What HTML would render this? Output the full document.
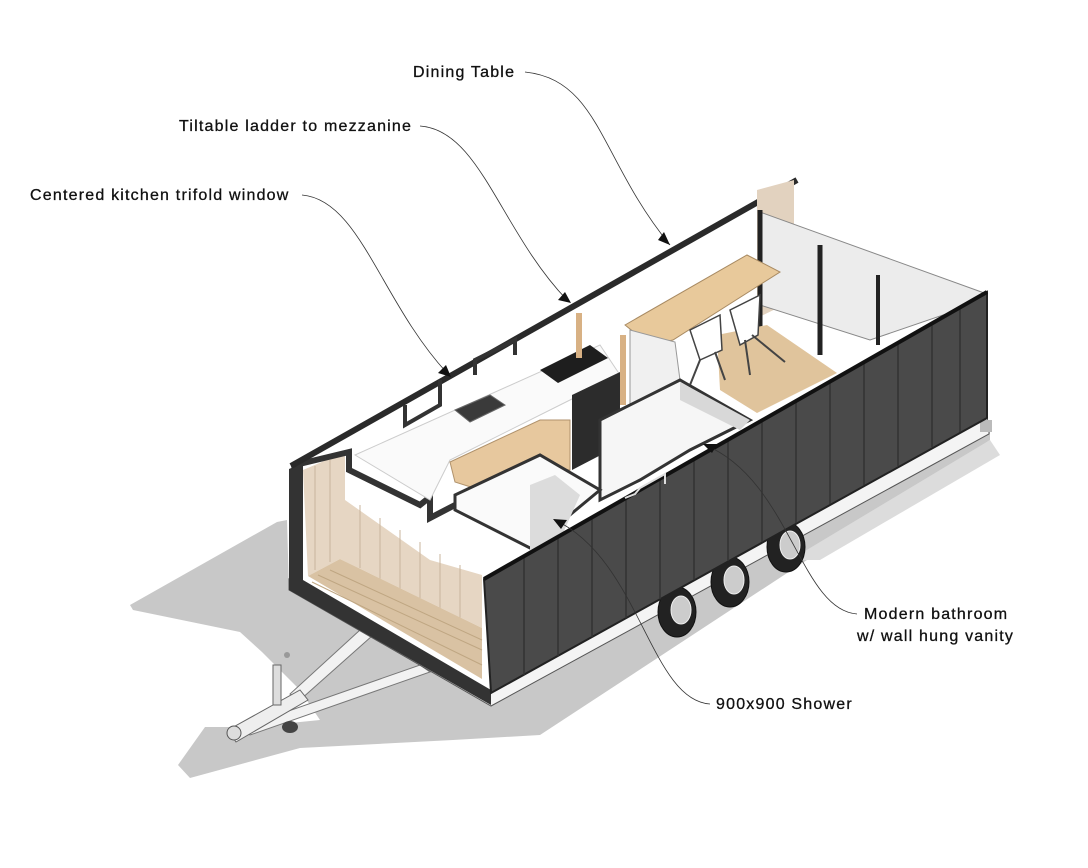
<!DOCTYPE html>
<html><head><meta charset="utf-8"><style>
html,body{margin:0;padding:0;background:#fff;}
svg{display:block;}
text{font-family:"Liberation Sans",sans-serif;font-size:16px;letter-spacing:1.2px;fill:#111;stroke:#111;stroke-width:0.3px;}
</style></head><body>
<svg width="1088" height="868" viewBox="0 0 1088 868" xmlns="http://www.w3.org/2000/svg">
<!-- shadow -->
<polygon points="287,520 277,522 130,605 133,610 240,632 262,652 300,690 320,720 250,727 205,727 178,765 190,778 300,748 453,740 540,735 990,440 990,430 491,706 289,590" fill="#c8c8c8"/>
<polygon points="790,560 990,440 1000,455 820,560" fill="#dcdcdc"/>
<!-- tow bar -->
<polygon points="360,630 372,636 300,700 290,694" fill="#f2f2f2" stroke="#777" stroke-width="1"/>
<polygon points="420,665 430,672 250,735 240,728" fill="#f2f2f2" stroke="#777" stroke-width="1"/>
<polygon points="228,730 300,690 308,700 236,742" fill="#eee" stroke="#666"/>
<rect x="273" y="665" width="8" height="40" fill="#ddd" stroke="#666"/>
<circle cx="287" cy="655" r="3" fill="#999"/>
<ellipse cx="234" cy="733" rx="7" ry="7" fill="#ddd" stroke="#555"/>
<ellipse cx="290" cy="727" rx="8" ry="6" fill="#444"/>
<!-- base strip -->
<polygon points="289,579 491,693 987,418 989,426 989,434 491,706 289,590" fill="#f4f4f4" stroke="#555" stroke-width="1"/>
<polygon points="980,420 992,420 992,432 980,432" fill="#bbb"/>
<!-- tires -->
<g fill="#222" stroke="#111">
<ellipse cx="677" cy="612" rx="19" ry="25"/>
<ellipse cx="730" cy="582" rx="19" ry="25"/>
<ellipse cx="786" cy="547" rx="19" ry="25"/>
</g>
<g fill="#ccc" stroke="#eee">
<ellipse cx="681" cy="610" rx="10" ry="14"/>
<ellipse cx="734" cy="580" rx="10" ry="14"/>
<ellipse cx="790" cy="545" rx="10" ry="14"/>
</g>
<!-- front outer wall -->
<polygon points="289,469 303,463 303,580 491,690 491,705 289,590" fill="#333"/>
<!-- front wood inner wall -->
<polygon points="303,470 345,452 345,500 430,560 482,575 482,628 340,559 308,576" fill="#e6d6c3"/>
<g stroke="#c8b49c" stroke-width="1">
<line x1="315" y1="466" x2="315" y2="570"/><line x1="330" y1="460" x2="330" y2="562"/>
<line x1="360" y1="505" x2="360" y2="568"/><line x1="380" y1="518" x2="380" y2="580"/>
<line x1="400" y1="530" x2="400" y2="592"/><line x1="420" y1="542" x2="420" y2="604"/>
<line x1="440" y1="554" x2="440" y2="616"/><line x1="460" y1="565" x2="460" y2="620"/>
</g>
<!-- front wood floor -->
<polygon points="308,576 340,559 482,628 482,679" fill="#d9c2a3"/>
<g stroke="#bfa682" stroke-width="1"><line x1="318" y1="575" x2="482" y2="650"/><line x1="330" y1="570" x2="482" y2="640"/><line x1="312" y1="582" x2="482" y2="665"/></g>
<!-- front wall top edge & window cut -->
<polyline points="291,466 349,452 349,470 420,505 430,497 430,518 455,505" fill="none" stroke="#333" stroke-width="6"/>
<!-- back wall line -->
<line x1="291" y1="466" x2="797" y2="180" stroke="#2a2a2a" stroke-width="6"/>
<!-- back window frames -->
<g fill="none" stroke="#333" stroke-width="4">
<polyline points="405,405 405,425 440,405 440,380"/>
<polyline points="475,375 475,360 515,340 515,355"/>
</g>
<!-- interior light areas -->
<polygon points="355,455 600,345 620,375 560,405 450,460 430,500" fill="#fafafa" stroke="#ccc" stroke-width="1"/>
<!-- counter wood cabinets -->
<polygon points="450,462 540,420 570,420 570,470 540,465 480,490 455,482" fill="#e7c89e" stroke="#b0926c" stroke-width="1"/>
<polygon points="572,395 620,372 620,445 572,470" fill="#2c2c2c"/>
<polygon points="540,370 590,345 608,358 558,383" fill="#1e1e1e"/>
<polygon points="455,410 490,395 505,405 470,422" fill="#3a3a3a" stroke="#666"/>
<!-- ladder post -->
<rect x="576" y="313" width="6" height="45" fill="#d8b184"/>
<rect x="620" y="335" width="6" height="70" fill="#d8b184"/>
<!-- back end walls -->
<polygon points="757,190 794,180 794,300 757,318" fill="#e2d2bf"/>
<polygon points="760,212 987,294 987,300 870,340 760,305" fill="#ececec" stroke="#888" stroke-width="1"/>
<line x1="760" y1="210" x2="760" y2="340" stroke="#222" stroke-width="5"/>
<line x1="820" y1="245" x2="820" y2="355" stroke="#222" stroke-width="5"/>
<line x1="878" y1="275" x2="878" y2="345" stroke="#222" stroke-width="4"/>
<!-- back wood floor -->
<polygon points="717,335 767,325 837,373 757,413 720,390" fill="#e0c49c"/>
<!-- dining table -->
<polygon points="625,325 747,255 780,272 673,340 650,345" fill="#e8c99b" stroke="#a88a62" stroke-width="1"/>
<polygon points="630,330 675,342 680,380 630,410" fill="#f0f0f0" stroke="#999"/>
<g fill="#fff" stroke="#444" stroke-width="1.5">
<path d="M690,330 L720,315 L722,350 L700,360 Z"/>
<path d="M730,310 L760,295 L758,335 L740,345 Z"/>
</g>
<g stroke="#444" stroke-width="2"><line x1="700" y1="360" x2="690" y2="385"/><line x1="715" y1="352" x2="725" y2="380"/><line x1="745" y1="340" x2="750" y2="375"/><line x1="752" y1="335" x2="785" y2="362"/></g>
<!-- bathroom partitions -->
<polygon points="600,420 680,380 750,420 690,450 640,480 600,500" fill="#f6f6f6" stroke="#333" stroke-width="3"/>
<polygon points="680,382 750,420 740,430 680,400" fill="#d8d8d8"/>
<polygon points="455,495 540,455 600,490 530,548 455,510" fill="#fafafa" stroke="#333" stroke-width="3"/>
<polygon points="530,485 555,475 580,495 560,540 530,550" fill="#dcdcdc"/>
<!-- right long wall -->
<polygon points="484,579 987,292 987,418 491,693" fill="#4a4a4a" stroke="#222" stroke-width="2"/>
<g stroke="#333" stroke-width="1.5">
<line x1="524" y1="556" x2="524" y2="675"/><line x1="558" y1="537" x2="558" y2="656"/>
<line x1="592" y1="517" x2="592" y2="637"/><line x1="626" y1="498" x2="626" y2="618"/>
<line x1="660" y1="478" x2="660" y2="599"/><line x1="694" y1="459" x2="694" y2="580"/>
<line x1="728" y1="440" x2="728" y2="561"/><line x1="762" y1="420" x2="762" y2="542"/>
<line x1="796" y1="401" x2="796" y2="523"/><line x1="830" y1="382" x2="830" y2="504"/>
<line x1="864" y1="362" x2="864" y2="485"/><line x1="898" y1="343" x2="898" y2="466"/>
<line x1="932" y1="323" x2="932" y2="447"/><line x1="960" y1="307" x2="960" y2="432"/>
</g>
<polyline points="484,579 987,292" fill="none" stroke="#111" stroke-width="4"/>
<polyline points="625,498 635,494 640,488 665,474 665,484" fill="none" stroke="#ddd" stroke-width="2"/>
<!-- leaders -->
<g fill="none" stroke="#333" stroke-width="0.8">
<path d="M525,72 C600,80 600,160 670,245"/>
<path d="M420,126 C480,130 500,230 567,300"/>
<path d="M302,195 C360,200 380,300 447,373"/>
<path d="M857,614 C800,610 790,480 705,445"/>
<path d="M710,704 C650,700 640,560 555,520"/>
</g>
<g fill="#111">
<polygon points="670,245 658,240 664,232"/>
<polygon points="571,303 558,300 565,292"/>
<polygon points="451,377 438,373 446,365"/>
<polygon points="703,444 717,444 712,453"/>
<polygon points="553,519 567,520 561,529"/>
</g>
<text x="413" y="77">Dining Table</text>
<text x="179" y="131">Tiltable ladder to mezzanine</text>
<text x="30" y="200">Centered kitchen trifold window</text>
<text x="864" y="619">Modern bathroom</text>
<text x="857" y="641">w/ wall hung vanity</text>
<text x="716" y="709">900x900 Shower</text>
</svg>
</body></html>
